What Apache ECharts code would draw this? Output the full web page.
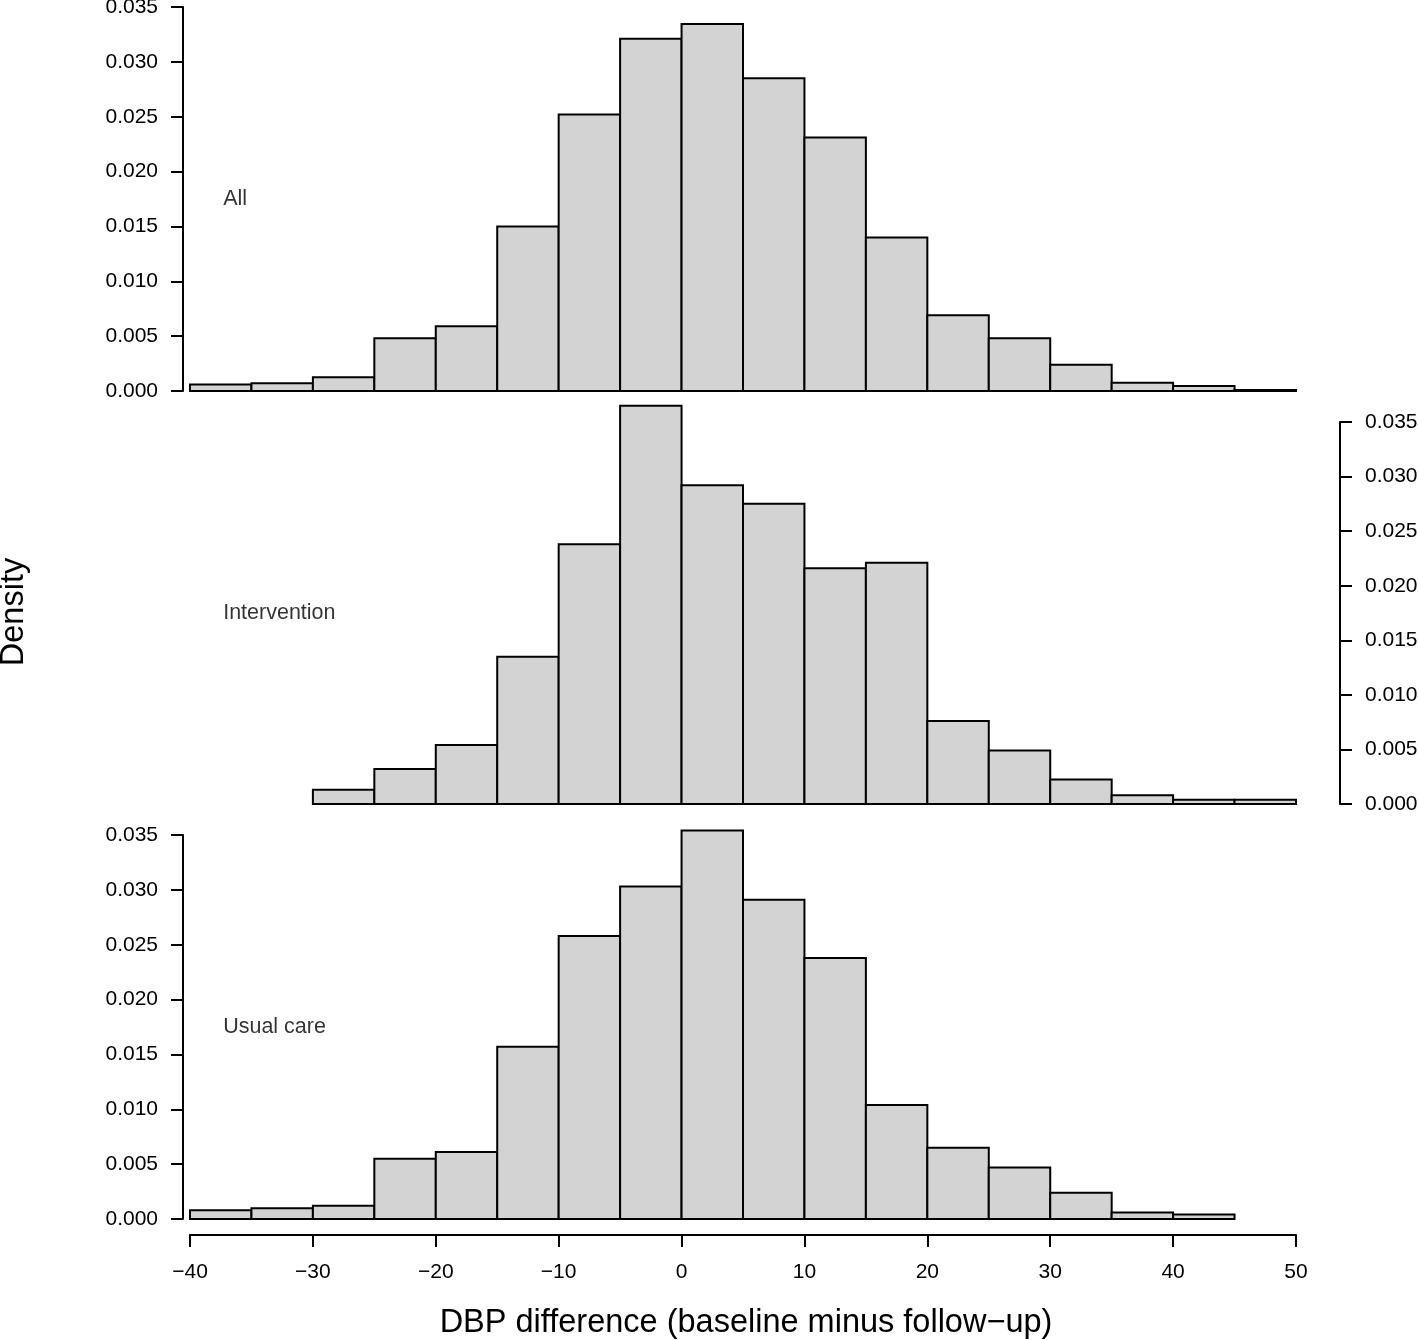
<!DOCTYPE html>
<html>
<head>
<meta charset="utf-8">
<script src="https://cdn.jsdelivr.net/npm/echarts@6/dist/echarts.min.js"></script>
<style>
html,body{margin:0;padding:0;background:#fff;}
#chart{width:1418px;height:1340px;}
</style>
</head>
<body>
<div id="chart"></div>
<script>
// Bin edges (DBP difference, width 5)
const binEdges = [-40,-35,-30,-25,-20,-15,-10,-5,0,5,10,15,20,25,30,35,40,45,50];
// Densities per bin (null = no bar)
const allDensity = [0.0006,0.0007,0.00125,0.0048,0.0059,0.0150,0.0252,0.0321,0.03345,0.0285,0.0231,0.0140,0.0069,0.0048,0.0024,0.00075,0.00045,0.0001];
const interventionDensity = [null,null,0.0013,0.0032,0.0054,0.0135,0.0238,0.0365,0.0292,0.0275,0.0216,0.0221,0.0076,0.0049,0.00225,0.0008,0.0004,0.0004];
const usualDensity = [0.0008,0.00098,0.0012,0.0055,0.0061,0.0157,0.0258,0.0303,0.0354,0.0291,0.0238,0.0104,0.0065,0.0047,0.0024,0.0006,0.0004,null];
// Panel labels and where they sit (data units)
const panelNames = ['All','Intervention','Usual care'];
const panelLabelX = -37.3;
const panelLabelY = 0.0175;
// Axis settings
const xMin = -40, xMax = 50, xInterval = 10;
const yMin = 0, yMax = 0.035, yInterval = 0.005;
const xTitle = 'DBP difference (baseline minus follow\u2212up)';
const yTitle = 'Density';

const FONT = '"Liberation Sans", Arial, Helvetica, sans-serif';

function toRects(dens){
  const out = [];
  for (let i = 0; i < dens.length; i++) {
    if (dens[i] == null) continue;
    out.push([binEdges[i], binEdges[i+1], dens[i]]);
  }
  return out;
}

function renderItem(params, api){
  const p0 = api.coord([api.value(0), api.value(2)]);
  const p1 = api.coord([api.value(1), 0]);
  return {
    type: 'rect',
    shape: {x: p0[0], y: p0[1], width: p1[0]-p0[0], height: p1[1]-p0[1]},
    style: {fill: '#d3d3d3', stroke: '#000', lineWidth: 2}
  };
}

const grids = [
  {left: 190, right: 122, top: 7, height: 384, containLabel: false, outerBoundsMode: 'none'},
  {left: 190, right: 122, top: 422, height: 382, containLabel: false, outerBoundsMode: 'none'},
  {left: 190, right: 122, top: 835, height: 384, containLabel: false, outerBoundsMode: 'none'}
];

function yAxisFor(idx, pos){
  return {
    type: 'value', gridIndex: idx, min: yMin, max: yMax, interval: yInterval,
    position: pos, offset: pos === 'left' ? 7 : 44,
    axisLine: {show: true, onZero: false, lineStyle: {color: '#000', width: 2}},
    axisTick: {show: true, length: 12, lineStyle: {color: '#000', width: 2}},
    axisLabel: {color: '#000', fontSize: 21, fontFamily: FONT, margin: 25,
      formatter: v => v.toFixed(3)},
    splitLine: {show: false}
  };
}

function xAxisFor(idx, show){
  return {
    type: 'value', gridIndex: idx, min: xMin, max: xMax, interval: xInterval,
    show: show, position: 'bottom', offset: 16,
    axisLine: {show: true, onZero: false, lineStyle: {color: '#000', width: 2}},
    axisTick: {show: true, length: 12, lineStyle: {color: '#000', width: 2}},
    axisLabel: {color: '#000', fontSize: 21, fontFamily: FONT, margin: 27,
      formatter: v => v < 0 ? '\u2212' + Math.abs(v) : String(v)},
    splitLine: {show: false}
  };
}

const densities = [allDensity, interventionDensity, usualDensity];
const series = [];
densities.forEach((d, i) => {
  series.push({
    type: 'custom', xAxisIndex: i, yAxisIndex: i, clip: false,
    renderItem: renderItem, encode: {x: [0,1], y: 2},
    data: toRects(d), silent: true
  });
  series.push({
    type: 'scatter', xAxisIndex: i, yAxisIndex: i, symbolSize: 0, silent: true,
    data: [[panelLabelX, panelLabelY, panelNames[i]]],
    label: {show: true, position: 'right', distance: 0, formatter: p => p.value[2],
      color: '#000', fontSize: 21.5, fontFamily: FONT}
  });
});

const chart = echarts.init(document.getElementById('chart'), null, {renderer: 'canvas'});
chart.setOption({
  animation: false,
  backgroundColor: '#fff',
  grid: grids,
  xAxis: [xAxisFor(0, false), xAxisFor(1, false), xAxisFor(2, true)],
  yAxis: [yAxisFor(0, 'left'), yAxisFor(1, 'right'), yAxisFor(2, 'left')],
  series: series,
  graphic: [
    {type: 'text', x: 746, y: 1323, style: {text: xTitle, fontSize: 32.5, fontFamily: FONT,
      fill: '#000', textAlign: 'center', textVerticalAlign: 'middle'}},
    {type: 'text', x: 14, y: 612, rotation: Math.PI/2, style: {text: yTitle, fontSize: 32.5, fontFamily: FONT,
      fill: '#000', textAlign: 'center', textVerticalAlign: 'middle'}}
  ]
});
</script>
</body>
</html>
